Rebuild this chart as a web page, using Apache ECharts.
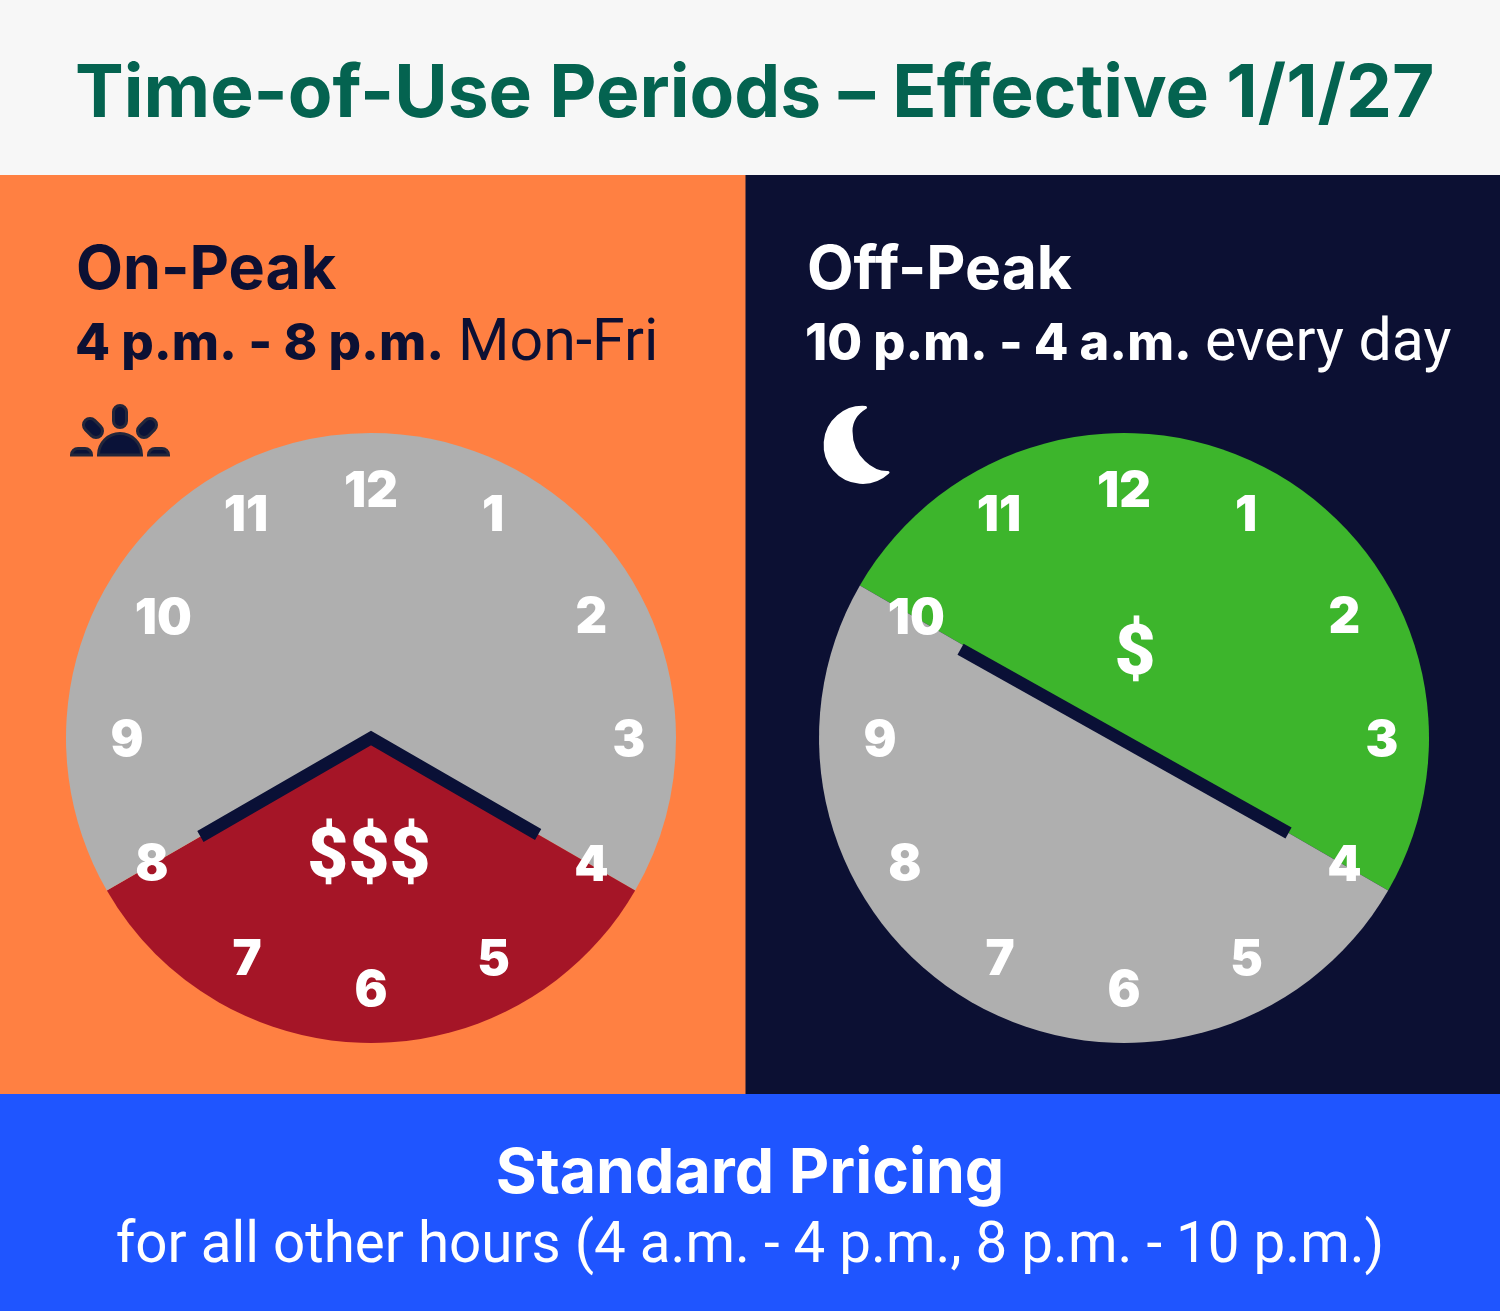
<!DOCTYPE html>
<html><head><meta charset="utf-8">
<style>html,body{margin:0;padding:0;background:#fff}#c{width:1500px;height:1311px}</style>
<script src="https://cdn.jsdelivr.net/npm/echarts@6/dist/echarts.min.js"></script>
</head><body><div id="c"></div>
<script>
const hourLabels = ['1','2','3','4','5','6','7','8','9','10','11','12'];
const hourValues = [1,2,3,4,5,6,7,8,9,10,11,12];
// pie slices, in hours of a 12-hour dial
const onPeakSlices = [{name:'Standard',value:4},{name:'On-Peak',value:4},{name:'Standard',value:4}];
const offPeakSlices = [{name:'Off-Peak',value:6},{name:'Standard',value:6}];
const onPeakHands = [[197,8],[0,0],[193,4]];
const offPeakHands = [[186,9.95],[190,4]];

const C = {head:'#f7f7f7',orange:'#ff8042',navy:'#0c1033',hand:'#0a1036',blue:'#1f55ff',grey:'#afafaf',red:'#a51527',green:'#3db52c',title:'#046350'};
const R = 305, centers = [[371,738],[1124,738]];
const labelRadius = [256,251,258,251,251,250,252,253,245,241,256,248];
const labelNudge = [[-6,0],[3,6],[0,3],[3,3],[-3,5],[0,3],[2,4],[0,1],[1,3],[1,2],[3,0],[0,2]];

echarts.graphic.registerShape('sunIcon', echarts.graphic.extendPath(
 'M98.5 455A21.5 21.5 0 0 1 141.5 455Z'+
 'M113.5 412A6.5 6.5 0 0 1 126.5 412L126.5 421A6.5 6.5 0 0 1 113.5 421Z'+
 'M94.6 420.4L100.6 426.4A6.5 6.5 0 0 1 91.4 435.6L85.4 429.6A6.5 6.5 0 0 1 94.6 420.4Z'+
 'M145.4 420.4L139.4 426.4A6.5 6.5 0 0 0 148.6 435.6L154.6 429.6A6.5 6.5 0 0 0 145.4 420.4Z'+
 'M71.5 455A6.5 6.5 0 0 1 78 448.5L85 448.5A6.5 6.5 0 0 1 91.5 455Z'+
 'M148.5 455A6.5 6.5 0 0 1 155 448.5L162 448.5A6.5 6.5 0 0 1 168.5 455Z', {}));
echarts.graphic.registerShape('moonIcon', echarts.graphic.extendPath(
 'M865.5 407.5A37.5 37.5 0 1 0 888 472.5C873 473 851 458 851 431C851 420 858 412 865.5 407.5Z', {}));

const rect=(x,y,width,height,fill)=>({type:'rect',z:0,silent:true,shape:{x,y,width,height},style:{fill}});
const txt=(x,y,text,font,fill,align)=>({type:'text',z:50,silent:true,x,y,style:{text,font,fill,align:align||'left',verticalAlign:'middle'}});

const F='Roboto';
const graphic=[
 rect(0,0,1500,176,C.head),
 rect(0,175,746,920,C.orange),
 rect(745.5,175,754.5,920,C.navy),
 rect(0,1094,1500,217,C.blue),
 txt(75,95,'Time-of-Use Periods – Effective 1/1/27','700 73px Inter',C.title),
 txt(76,271,'On-Peak','700 61px Inter',C.navy),
 txt(75,345,'4 p.m. - 8 p.m.','800 51px Inter',C.navy),
 txt(458,345,'Mon-Fri','400 59px '+F,C.navy),
 txt(807,271,'Off-Peak','700 60.5px Inter','#fff'),
 txt(805,345,'10 p.m. - 4 a.m.','800 50.5px Inter','#fff'),
 txt(1205,345,'every day','400 59px '+F,'#fff'),
 txt(369,859,'$$$','900 71px '+F,'#fff','center'),
 txt(1135,656,'$','900 71px '+F,'#fff','center'),
 txt(750,1174,'Standard Pricing','700 62.5px Inter','#fff','center'),
 txt(750,1248,'for all other hours (4 a.m. - 4 p.m., 8 p.m. - 10 p.m.)','400 56.5px '+F,'#fff','center'),
 {type:'sunIcon',z:50,silent:true,style:{fill:'#0a1238',stroke:'#23263a',lineWidth:3}},
 {type:'moonIcon',z:50,silent:true,style:{fill:'#fff',stroke:'#fff',lineWidth:3,lineJoin:'round'}}
];

const polars=centers.map(c=>({center:c,radius:R}));
const angleAxes=centers.map((c,i)=>({polarIndex:i,type:'value',min:0,max:12,startAngle:90,show:false}));
const radiusAxes=centers.map((c,i)=>({polarIndex:i,type:'value',min:0,max:R,show:false}));

const pie=(i,data,colors,startAngle)=>({type:'pie',center:centers[i],radius:[0,R],startAngle,silent:true,z:2,
 label:{show:false},labelLine:{show:false},data:data.map((d,k)=>({...d,itemStyle:{color:colors[k]}})),animation:false,emphasis:{disabled:true}});
const hand=(i,data)=>({type:'line',coordinateSystem:'polar',polarIndex:i,data,symbol:'none',silent:true,z:3,clip:false,animation:false,
 lineStyle:{color:C.hand,width:12.5,cap:'butt',join:'miter'}});
const nums=(i)=>({type:'scatter',coordinateSystem:'polar',polarIndex:i,symbolSize:1,itemStyle:{color:'rgba(0,0,0,0)',opacity:1},silent:true,z:4,clip:false,animation:false,
 data:hourValues.map((h,k)=>({value:[labelRadius[k],h],label:{formatter:hourLabels[k],offset:labelNudge[k]}})),
 label:{show:true,position:'inside',color:'#fff',fontFamily:'Inter',fontWeight:900,fontSize:49}});

const chart=echarts.init(document.getElementById('c'),null,{width:1500,height:1311});
chart.setOption({animation:false,backgroundColor:'#fff',polar:polars,angleAxis:angleAxes,radiusAxis:radiusAxes,graphic:{elements:graphic},
 series:[
  pie(0,onPeakSlices,[C.grey,C.red,C.grey],90),
  pie(1,offPeakSlices,[C.green,C.grey],150),
  hand(0,onPeakHands),hand(1,offPeakHands),nums(0),nums(1)
 ]});
</script></body></html>
